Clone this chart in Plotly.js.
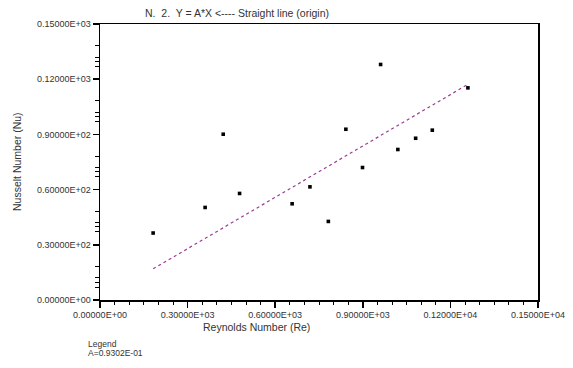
<!DOCTYPE html>
<html>
<head>
<meta charset="utf-8">
<script src="https://cdn.plot.ly/plotly-3.0.1.min.js"></script>
<style>html,body{margin:0;padding:0;background:#fff;}#chart{width:573px;height:368px;}</style>
</head>
<body>
<div id="chart"></div>
<script>
// Data
const reynolds = [182, 360, 422, 478, 658, 719, 782, 842, 899, 961, 1020, 1081, 1138, 1260];
const nusselt  = [36.4, 50.3, 90.1, 57.9, 52.3, 61.5, 42.7, 92.8, 72.0, 128.0, 81.8, 87.9, 92.3, 115.3];
const slopeA = 0.09302;
const xTickVals = [0, 300, 600, 900, 1200, 1500];
const xTickText = ["0.00000E+00", "0.30000E+03", "0.60000E+03", "0.90000E+03", "0.12000E+04", "0.15000E+04"];
const yTickVals = [0, 30, 60, 90, 120, 150];
const yTickText = ["0.00000E+00", "0.30000E+02", "0.60000E+02", "0.90000E+02", "0.12000E+03", "0.15000E+03"];
const yMinorOffsets = [7, 9.7, 12, 18.2];
const titleText = "N.  2.  Y = A*X <---- Straight line (origin)";
const legendLines = ["Legend", "A=0.9302E-01"];

const yMinor = [];
for (let k = 0; k < yTickVals.length - 1; k++) {
  yMinorOffsets.forEach(o => yMinor.push(yTickVals[k] + o));
}
const xMin = Math.min(...reynolds), xMax = Math.max(...reynolds);
const fitX = [xMin, xMax];
const fitY = fitX.map(v => slopeA * v);

const fam = "Liberation Sans, Arial, sans-serif";
const font = {family: fam, size: 9, color: "#333"};

const traces = [
  {x: fitX, y: fitY, mode: "lines", type: "scatter",
   line: {color: "#9a3d94", width: 1.2, dash: "dot"}, hoverinfo: "skip"},
  {x: reynolds, y: nusselt, mode: "markers", type: "scatter",
   marker: {color: "#000", size: 3.6, symbol: "square"}}
];

const layout = {
  width: 573, height: 368,
  margin: {l: 100, r: 35, t: 24, b: 68},
  paper_bgcolor: "#fff", plot_bgcolor: "#fff",
  showlegend: false,
  font: font,
  xaxis: {
    range: [0, 1500], tickmode: "array", tickvals: xTickVals, ticktext: xTickText,
    showgrid: false, zeroline: false, showline: true, linecolor: "#000", linewidth: 1.5,
    mirror: true, ticks: "outside", ticklen: 6, tickwidth: 1.5, tickcolor: "#000",
    tickfont: font,
    minor: {dtick: 50, tick0: 0, ticks: "outside", ticklen: 3, tickwidth: 1, tickcolor: "#000", showgrid: false}
  },
  yaxis: {
    range: [0, 150], tickmode: "array", tickvals: yTickVals, ticktext: yTickText,
    showgrid: false, zeroline: false, showline: true, linecolor: "#000", linewidth: 1.5,
    mirror: true, ticks: "outside", ticklen: 6, tickwidth: 1.5, tickcolor: "#000",
    tickfont: font,
    minor: {tickmode: "array", tickvals: yMinor, ticks: "outside", ticklen: 4, tickwidth: 1, tickcolor: "#000", showgrid: false}
  },
  annotations: [
    {text: titleText, xref: "paper", yref: "paper", x: 0.313, y: 1, yanchor: "bottom", xanchor: "center",
     yshift: 3, showarrow: false, font: {family: fam, size: 10.5, color: "#333"}},
    {text: "Nusselt Number (Nu)", xref: "paper", yref: "paper", x: 0, y: 0.5, xanchor: "center", yanchor: "middle",
     xshift: -83, textangle: -90, showarrow: false, font: {family: fam, size: 10.5, color: "#333"}},
    {text: "Reynolds Number (Re)", xref: "paper", yref: "paper", x: 0.358, y: 0, xanchor: "center", yanchor: "top",
     yshift: -19, showarrow: false, font: {family: fam, size: 10.5, color: "#333"}},
    {text: legendLines[0], xref: "paper", yref: "paper", x: 0, y: 0, xanchor: "left", yanchor: "middle",
     xshift: -14, yshift: -44, showarrow: false, font: {family: fam, size: 8.5, color: "#333"}},
    {text: legendLines[1], xref: "paper", yref: "paper", x: 0, y: 0, xanchor: "left", yanchor: "middle",
     xshift: -14, yshift: -53, showarrow: false, font: {family: fam, size: 8.5, color: "#333"}}
  ]
};

Plotly.newPlot("chart", traces, layout, {displayModeBar: false, staticPlot: true});
</script>
</body>
</html>
